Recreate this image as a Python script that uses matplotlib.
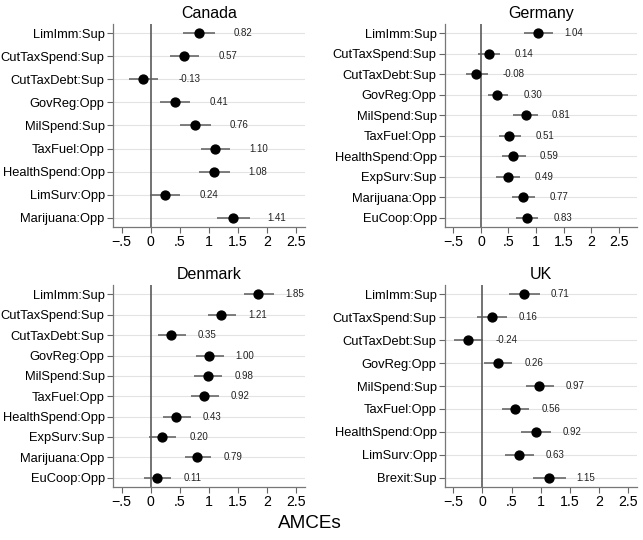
import matplotlib
matplotlib.use("Agg")
import matplotlib.pyplot as plt

plt.rcParams["font.family"] = ["Liberation Sans", "DejaVu Sans"]

# Canada
canada_labels = ["LimImm:Sup", "CutTaxSpend:Sup", "CutTaxDebt:Sup", "GovReg:Opp",
                 "MilSpend:Sup", "TaxFuel:Opp", "HealthSpend:Opp", "LimSurv:Opp",
                 "Marijuana:Opp"]
canada_est = [0.82, 0.57, -0.13, 0.41, 0.76, 1.10, 1.08, 0.24, 1.41]
canada_lo = [0.55, 0.33, -0.37, 0.15, 0.51, 0.86, 0.82, -0.02, 1.14]
canada_hi = [1.10, 0.83, 0.13, 0.67, 1.03, 1.36, 1.36, 0.50, 1.70]

# Germany
germany_labels = ["LimImm:Sup", "CutTaxSpend:Sup", "CutTaxDebt:Sup", "GovReg:Opp",
                  "MilSpend:Sup", "TaxFuel:Opp", "HealthSpend:Opp", "ExpSurv:Sup",
                  "Marijuana:Opp", "EuCoop:Opp"]
germany_est = [1.04, 0.14, -0.08, 0.30, 0.81, 0.51, 0.59, 0.49, 0.77, 0.83]
germany_lo = [0.78, -0.06, -0.27, 0.12, 0.58, 0.32, 0.38, 0.28, 0.56, 0.64]
germany_hi = [1.30, 0.35, 0.12, 0.50, 1.04, 0.72, 0.81, 0.70, 0.98, 1.04]

# Denmark
denmark_labels = ["LimImm:Sup", "CutTaxSpend:Sup", "CutTaxDebt:Sup", "GovReg:Opp",
                  "MilSpend:Sup", "TaxFuel:Opp", "HealthSpend:Opp", "ExpSurv:Sup",
                  "Marijuana:Opp", "EuCoop:Opp"]
denmark_est = [1.85, 1.21, 0.35, 1.00, 0.98, 0.92, 0.43, 0.20, 0.79, 0.11]
denmark_lo = [1.61, 0.98, 0.12, 0.77, 0.75, 0.69, 0.21, -0.03, 0.58, -0.11]
denmark_hi = [2.12, 1.46, 0.61, 1.26, 1.23, 1.18, 0.69, 0.43, 1.03, 0.35]

# UK
uk_labels = ["LimImm:Sup", "CutTaxSpend:Sup", "CutTaxDebt:Sup", "GovReg:Opp",
             "MilSpend:Sup", "TaxFuel:Opp", "HealthSpend:Opp", "LimSurv:Opp",
             "Brexit:Sup"]
uk_est = [0.71, 0.16, -0.24, 0.26, 0.97, 0.56, 0.92, 0.63, 1.15]
uk_lo = [0.45, -0.09, -0.49, 0.02, 0.74, 0.33, 0.67, 0.38, 0.87]
uk_hi = [0.98, 0.42, 0.01, 0.50, 1.22, 0.80, 1.18, 0.88, 1.44]

xtick_vals = [-0.5, 0, 0.5, 1, 1.5, 2, 2.5]
xtick_labels = ["\u2212.5", "0", ".5", "1", "1.5", "2", "2.5"]

panels = [
    ("Canada", canada_labels, canada_est, canada_lo, canada_hi,
     [0.1757, 0.5796, 0.2986, 0.376], (-0.65, 2.65), 0.60),
    ("Germany", germany_labels, germany_est, germany_lo, germany_hi,
     [0.6921, 0.5796, 0.2986, 0.376], (-0.65, 2.83), 0.48),
    ("Denmark", denmark_labels, denmark_est, denmark_lo, denmark_hi,
     [0.1757, 0.0981, 0.2986, 0.3741], (-0.65, 2.65), 0.46),
    ("UK", uk_labels, uk_est, uk_lo, uk_hi,
     [0.6921, 0.0981, 0.2986, 0.3741], (-0.64, 2.65), 0.46),
]

fig = plt.figure(figsize=(6.43, 5.4), dpi=100)

for title, labels, est, lo, hi, rect, xlim, lab_off in panels:
    ax = fig.add_axes(rect)
    n = len(labels)
    ys = list(range(n))
    for y in ys:
        ax.axhline(y, color="#e3e3e3", lw=0.8, zorder=0)
    ax.axvline(0, color="#5a5a5a", lw=1.2, zorder=1)
    ax.hlines(ys, lo, hi, color="#5c5c5c", lw=1.1, zorder=2)
    ax.plot(est, ys, "o", color="black", ms=6.4, zorder=3)
    for v, y in zip(est, ys):
        ax.text(v + lab_off, y, f"{v:.2f}", fontsize=7, color="#222222",
                ha="left", va="center")

    pad = 9.5 / (184.0 / (n - 1))
    ax.set_ylim(n - 1 + pad, -pad)
    ax.set_xlim(*xlim)
    ax.set_yticks(ys)
    ax.set_yticklabels(labels, fontsize=9.3)
    ax.set_xticks(xtick_vals)
    ax.set_xticklabels(xtick_labels, fontsize=10.2)
    ax.tick_params(axis="both", colors="#666666", length=4, width=0.8,
                   labelcolor="black")
    ax.tick_params(axis="y", pad=2)
    ax.tick_params(axis="x", pad=2)
    for side in ["top", "right"]:
        ax.spines[side].set_visible(False)
    for side in ["left", "bottom"]:
        ax.spines[side].set_color("#777777")
        ax.spines[side].set_linewidth(0.9)
    ax.set_title(title, fontsize=11.5, pad=4)

fig.text(0.482, 0.03, "AMCEs", fontsize=13.6, ha="center", va="center")

fig.savefig("out.png", dpi=100)
